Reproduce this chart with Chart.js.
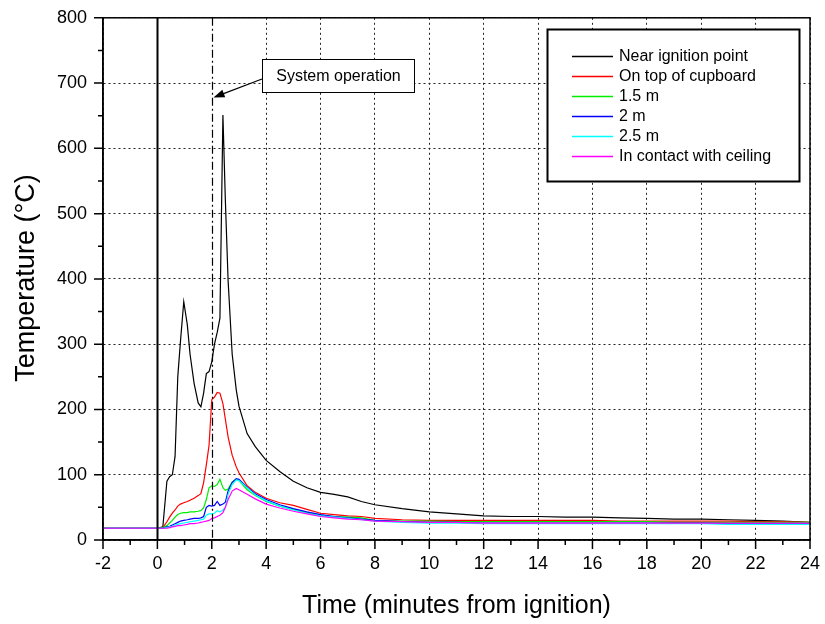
<!DOCTYPE html>
<html>
<head>
<meta charset="utf-8">
<script src="https://cdn.jsdelivr.net/npm/chart.js@4.4.1/dist/chart.umd.min.js"></script>
<style>
  html, body { margin: 0; padding: 0; background: #fff; }
  #wrap { width: 825px; height: 624px; position: relative; }
</style>
</head>
<body>
<div id="wrap"><canvas id="tempChart" width="825" height="624"></canvas></div>
<script>
// time in minutes from ignition (shared by all series)
const times = [-2, 0, 0.2, 0.35, 0.45, 0.55, 0.65, 0.75, 0.85, 0.97,
    1.1, 1.2, 1.35, 1.5, 1.6, 1.7, 1.8, 1.9,
    2.0, 2.1, 2.2, 2.3, 2.41, 2.5, 2.6, 2.75, 2.9,
    3.0, 3.3, 3.6,
    4.0, 4.5, 5.0, 5.5, 6.0, 6.5, 7.0, 7.5, 8.0,
    9, 10, 11, 12, 13, 14, 15, 16, 17, 18, 19, 20, 21, 22, 23, 24];

const nearIgnition = [18, 18, 20, 90, 97, 100, 128, 250, 305, 365,
    330, 285, 240, 210, 204, 225, 255, 258,
    273, 300, 318, 340, 651, 520, 398, 285, 230,
    205, 163, 143,
    122, 105, 90, 80, 73, 70, 66, 59, 54,
    48, 43, 40, 37, 36, 36, 35, 35, 34, 33, 32, 32, 31, 30, 29, 27];

const cupboardTop = [18, 18, 19, 28, 35, 41, 46, 52, 55, 57,
    59, 61, 64, 68, 71, 88, 115, 145,
    215, 219, 226, 225, 209, 185, 158, 130, 112,
    103, 83, 73,
    64, 57, 53, 47, 41, 39, 37, 36, 33,
    31, 30, 30, 30, 30, 30, 30, 30, 29, 29, 29, 29, 29, 28, 28, 27];

const height15 = [18, 18, 19, 22, 26, 30, 35, 39, 41, 42,
    42, 43, 43, 44, 45, 49, 62, 80,
    83, 82, 85, 93, 80, 76, 78, 89, 93,
    91, 77, 68,
    59, 52, 47, 42, 38, 36, 35, 34, 30,
    29, 29, 28, 28, 28, 28, 28, 28, 28, 28, 27, 27, 27, 27, 27, 27];

const height2 = [18, 18, 18, 20, 21, 23, 25, 27, 29, 30,
    31, 32, 33, 33, 34, 36, 50, 53,
    52, 53, 59, 53, 55, 58, 75, 88, 94,
    93, 81, 71,
    62, 54, 48, 43, 39, 36, 34, 32, 30,
    28, 27, 27, 26, 26, 26, 26, 26, 26, 26, 26, 26, 25, 25, 25, 25];

const height25 = [18, 18, 18, 19, 20, 21, 23, 24, 25, 26,
    27, 28, 29, 30, 31, 32, 38, 40,
    40, 41, 45, 43, 46, 50, 70, 85, 92,
    91, 80, 69,
    60, 52, 46, 41, 37, 35, 33, 31, 29,
    27, 26, 26, 25, 25, 25, 25, 25, 25, 25, 25, 25, 24, 24, 24, 24];

const ceiling = [18, 18, 18, 18, 19, 20, 21, 22, 22, 23,
    24, 25, 25, 26, 27, 28, 29, 30,
    33, 34, 36, 38, 42, 50, 62, 75, 79,
    77, 70, 63,
    55, 49, 44, 40, 36, 34, 32, 31, 29,
    28, 27, 27, 26, 26, 26, 26, 26, 26, 26, 26, 26, 26, 26, 26, 26];

const seriesLabels = ['Near ignition point', 'On top of cupboard', '1.5 m', '2 m', '2.5 m', 'In contact with ceiling'];
const seriesColors = ['#000000', '#ff0000', '#00ee00', '#0000ff', '#00ffff', '#ff00ff'];
const seriesValues = [nearIgnition, cupboardTop, height15, height2, height25, ceiling];

const xTicks = [-2, 0, 2, 4, 6, 8, 10, 12, 14, 16, 18, 20, 22, 24];
const yTicks = [0, 100, 200, 300, 400, 500, 600, 700, 800];
const systemTime = 2;   // sprinkler system operation
const arrowTarget = 678; // temperature where the annotation arrow points

const FONT = '"Liberation Sans", Arial, sans-serif';
const GRID = '#222';

// extra drawing: frame, ticks, marker lines, note, legend, axis titles
const extras = {
    id: 'extras',
    afterDatasetsDraw(chart) {
        const ctx = chart.ctx;
        const a = chart.chartArea;
        const xs = chart.scales.x;
        const ys = chart.scales.y;
        ctx.save();

        // ignition line (t = 0)
        const x0 = Math.round(xs.getPixelForValue(0)) + 0.5;
        ctx.strokeStyle = '#000';
        ctx.lineWidth = 2;
        ctx.beginPath();
        ctx.moveTo(x0, a.top);
        ctx.lineTo(x0, a.bottom);
        ctx.stroke();

        // system operation line (dash-dot)
        const x2 = Math.round(xs.getPixelForValue(systemTime)) + 0.5;
        ctx.lineWidth = 1.2;
        ctx.setLineDash([8, 3, 2, 3]);
        ctx.beginPath();
        ctx.moveTo(x2, a.top);
        ctx.lineTo(x2, a.bottom);
        ctx.stroke();
        ctx.setLineDash([]);

        // frame
        ctx.lineWidth = 1.5;
        ctx.strokeRect(a.left, a.top, a.right - a.left, a.bottom - a.top);

        // tick marks, major and minor, outward
        ctx.lineWidth = 1.5;
        ctx.beginPath();
        for (let v = -2; v <= 24; v += 1) {
            const px = xs.getPixelForValue(v);
            const len = (v % 2 === 0) ? 9 : 5;
            ctx.moveTo(px, a.bottom);
            ctx.lineTo(px, a.bottom + len);
        }
        for (let v = 0; v <= 800; v += 50) {
            const py = ys.getPixelForValue(v);
            const len = (v % 100 === 0) ? 9 : 5;
            ctx.moveTo(a.left, py);
            ctx.lineTo(a.left - len, py);
        }
        ctx.stroke();

        // annotation box
        const bx = 262, by = 59.5, bw = 152, bh = 33;
        ctx.fillStyle = '#fff';
        ctx.fillRect(bx, by, bw, bh);
        ctx.lineWidth = 1;
        ctx.strokeRect(bx + 0.5, by, bw, bh);
        ctx.fillStyle = '#000';
        ctx.font = '16px ' + FONT;
        ctx.textAlign = 'center';
        ctx.textBaseline = 'middle';
        ctx.fillText('System operation', bx + bw / 2 + 0.5, by + bh / 2 + 1);

        // arrow
        const tx = x2 + 1, ty = ys.getPixelForValue(arrowTarget);
        const sx = bx, sy = 79;
        const ang = Math.atan2(ty - sy, tx - sx);
        ctx.lineWidth = 1.2;
        ctx.beginPath();
        ctx.moveTo(sx, sy);
        ctx.lineTo(tx - 8 * Math.cos(ang), ty - 8 * Math.sin(ang));
        ctx.stroke();
        ctx.beginPath();
        ctx.moveTo(tx, ty);
        ctx.lineTo(tx - 11 * Math.cos(ang) + 4 * Math.sin(ang), ty - 11 * Math.sin(ang) - 4 * Math.cos(ang));
        ctx.lineTo(tx - 11 * Math.cos(ang) - 4 * Math.sin(ang), ty - 11 * Math.sin(ang) + 4 * Math.cos(ang));
        ctx.closePath();
        ctx.fill();

        // legend box
        const lx = 547.5, ly = 29.5, lw = 252, lh = 152;
        ctx.fillStyle = '#fff';
        ctx.fillRect(lx, ly, lw, lh);
        ctx.lineWidth = 2;
        ctx.strokeStyle = '#000';
        ctx.strokeRect(lx, ly, lw, lh);
        ctx.textAlign = 'left';
        ctx.font = '16px ' + FONT;
        chart.data.datasets.forEach((ds, i) => {
            const ry = 56 + i * 20;
            ctx.strokeStyle = ds.borderColor;
            ctx.lineWidth = 1.3;
            ctx.beginPath();
            ctx.moveTo(572, ry + 0.5);
            ctx.lineTo(613, ry + 0.5);
            ctx.stroke();
            ctx.fillStyle = '#000';
            ctx.fillText(ds.label, 619, ry + 1);
        });

        // axis titles
        ctx.fillStyle = '#000';
        ctx.font = '25px ' + FONT;
        ctx.textAlign = 'center';
        ctx.textBaseline = 'middle';
        ctx.fillText('Time (minutes from ignition)', (a.left + a.right) / 2, 606);
        ctx.save();
        ctx.font = '27px ' + FONT;
        ctx.translate(27, 278);
        ctx.rotate(-Math.PI / 2);
        ctx.fillText('Temperature (°C)', 0, 0);
        ctx.restore();

        ctx.restore();
    }
};

function buildDatasets() {
    return seriesValues.map((vals, i) => ({
        label: seriesLabels[i],
        data: times.map((t, k) => ({x: t, y: vals[k]})),
        borderColor: seriesColors[i],
        borderWidth: 1.2,
        pointRadius: 0,
        tension: 0,
        fill: false,
        order: seriesValues.length - 1 - i // ceiling line ends up on top
    }));
}

const ctx = document.getElementById('tempChart').getContext('2d');
new Chart(ctx, {
    type: 'line',
    data: { datasets: buildDatasets() },
    options: {
        responsive: false,
        animation: false,
        events: [],
        layout: { padding: { top: 17, right: 15, bottom: 0, left: 0 } },
        plugins: { legend: { display: false }, tooltip: { enabled: false } },
        scales: {
            x: {
                type: 'linear',
                min: -2,
                max: 24,
                afterFit: s => { s.height = 84; },
                afterBuildTicks: s => { s.ticks = xTicks.map(v => ({value: v})); },
                ticks: { color: '#000', font: { family: FONT, size: 18 }, padding: 4, maxRotation: 0 },
                grid: {
                    color: c => (c.tick && (c.tick.value === systemTime || c.tick.value === 0)) ? 'rgba(0,0,0,0)' : GRID,
                    lineWidth: 1, tickLength: 9, tickColor: 'rgba(0,0,0,0)'
                },
                border: { display: true, color: '#000', width: 1.5, dash: [2, 3] }
            },
            y: {
                min: 0,
                max: 800,
                afterFit: s => { s.width = 103; },
                afterBuildTicks: s => { s.ticks = yTicks.map(v => ({value: v})); },
                ticks: { color: '#000', font: { family: FONT, size: 18 }, padding: 7 },
                grid: { color: GRID, lineWidth: 1, tickLength: 9, tickColor: 'rgba(0,0,0,0)' },
                border: { display: true, color: '#000', width: 1.5, dash: [2, 3] }
            }
        }
    },
    plugins: [extras]
});
</script>
</body>
</html>
